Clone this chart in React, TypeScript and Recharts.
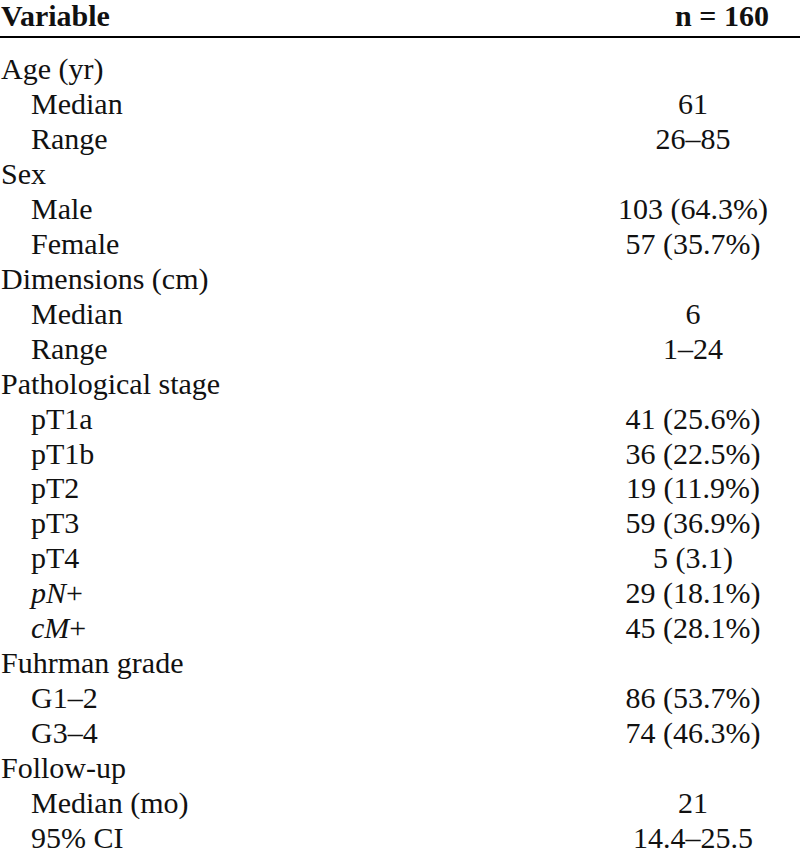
import React from 'react';
import { BarChart, XAxis, YAxis } from 'recharts';

const headers = ['Variable', 'n = 160'];

const labels = [
  'Age (yr)', 'Median', 'Range',
  'Sex', 'Male', 'Female',
  'Dimensions (cm)', 'Median', 'Range',
  'Pathological stage', 'pT1a', 'pT1b', 'pT2', 'pT3', 'pT4', 'pN+', 'cM+',
  'Fuhrman grade', 'G1–2', 'G3–4',
  'Follow-up', 'Median (mo)', '95% CI',
];

const values = [
  '', '61', '26–85',
  '', '103 (64.3%)', '57 (35.7%)',
  '', '6', '1–24',
  '', '41 (25.6%)', '36 (22.5%)', '19 (11.9%)', '59 (36.9%)', '5 (3.1)', '29 (18.1%)', '45 (28.1%)',
  '', '86 (53.7%)', '74 (46.3%)',
  '', '21', '14.4–25.5',
];

const groupLabels = ['Age (yr)', 'Sex', 'Dimensions (cm)', 'Pathological stage', 'Fuhrman grade', 'Follow-up'];
const italicLabels = ['pN+', 'cM+'];

const rows = labels.map((label, i) => ({ row: String(i), label, value: values[i] }));

const W = 800;
const H = 857;
const FONT = '"Liberation Serif", "Times New Roman", serif';
const SIZE = 30;
const INK = '#111';
const VALUE_CENTER = 107; // value column centre, measured from right edge
const HEADER_CENTER = 78;
const INDENT = 31;
const BASE_DY = 13; // baseline below band centre

const LabelTick = ({ x, y, payload }: any) => {
  const i = Number(payload.value);
  const label = labels[i];
  const isGroup = groupLabels.includes(label);
  const tx = x + (isGroup ? 1 : INDENT);
  if (italicLabels.includes(label)) {
    return (
      <text x={tx} y={y + BASE_DY} fontFamily={FONT} fontSize={SIZE} fill={INK} textAnchor="start">
        <tspan fontStyle="italic">{label.slice(0, -1)}</tspan>
        <tspan>{label.slice(-1)}</tspan>
      </text>
    );
  }
  return (
    <text x={tx} y={y + BASE_DY} fontFamily={FONT} fontSize={SIZE} fill={INK} textAnchor="start">
      {label}
    </text>
  );
};

const ValueTick = ({ x, y, payload }: any) => {
  const i = Number(payload.value);
  return (
    <text x={x - VALUE_CENTER} y={y + BASE_DY} fontFamily={FONT} fontSize={SIZE} fill={INK} textAnchor="middle">
      {values[i]}
    </text>
  );
};

const HeaderLabel = (props: any) => {
  const vb = props.viewBox || { x: 0, y: 0, width: W, height: 37 };
  return (
    <g fontFamily={FONT} fontSize={SIZE} fontWeight="bold" fill={INK}>
      <text x={vb.x + 1} y={vb.y + 26}>{headers[0]}</text>
      <text x={vb.x + vb.width - HEADER_CENTER} y={vb.y + 26} textAnchor="middle">{headers[1]}</text>
    </g>
  );
};

export default function App() {
  return (
    <div style={{ width: W, height: H, background: '#fff' }}>
      <style>{'body{margin:0}'}</style>
      <BarChart
        width={W}
        height={H}
        data={rows}
        layout="vertical"
        margin={{ top: 0, right: 0, bottom: 0, left: 0 }}
      >
        <XAxis
          orientation="top"
          type="number"
          domain={[0, 1]}
          height={37}
          tick={false}
          tickLine={false}
          axisLine={{ stroke: '#000', strokeWidth: 2 }}
          label={HeaderLabel}
        />
        <YAxis
          yAxisId="left"
          type="category"
          dataKey="row"
          mirror
          axisLine={false}
          tickLine={false}
          tickSize={0}
          tickMargin={0}
          interval={0}
          padding={{ top: 12, bottom: 5 }}
          tick={<LabelTick />}
        />
        <YAxis
          yAxisId="right"
          orientation="right"
          type="category"
          dataKey="row"
          mirror
          axisLine={false}
          tickLine={false}
          tickSize={0}
          tickMargin={0}
          interval={0}
          padding={{ top: 12, bottom: 5 }}
          tick={<ValueTick />}
        />
      </BarChart>
    </div>
  );
}
